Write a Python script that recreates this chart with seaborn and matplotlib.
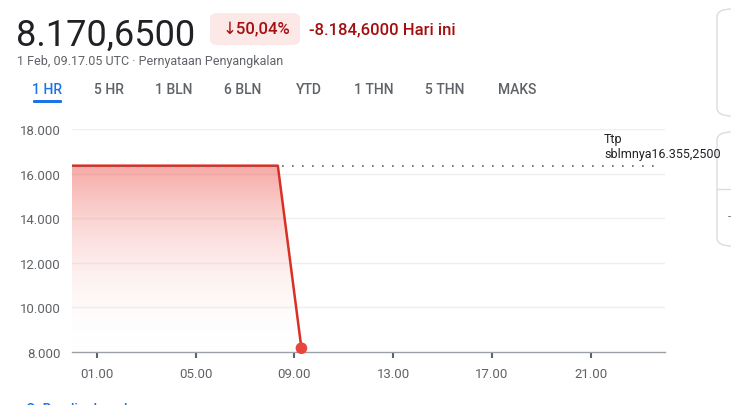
import numpy as np
import pandas as pd
import matplotlib
matplotlib.use("Agg")
import matplotlib.pyplot as plt
from matplotlib.patches import FancyBboxPatch, Polygon
from matplotlib.colors import LinearSegmentedColormap
import seaborn as sns

# data (hours since midnight, price)
hours = [0.0, 1.0, 2.0, 3.0, 4.0, 5.0, 6.0, 7.0, 8.0, 8.33, 9.285]
prices = [16355.25, 16355.25, 16355.25, 16355.25, 16355.25, 16355.25,
          16355.25, 16355.25, 16355.25, 16355.25, 8170.65]
prev_close = 16355.25
x_ticks = [1, 5, 9, 13, 17, 21]
x_tick_labels = ["01.00", "05.00", "09.00", "13.00", "17.00", "21.00"]
y_ticks = [8000, 10000, 12000, 14000, 16000, 18000]
y_tick_labels = ["8.000", "10.000", "12.000", "14.000", "16.000", "18.000"]
tabs = ["1 HR", "5 HR", "1 BLN", "6 BLN", "YTD", "1 THN", "5 THN", "MAKS"]
tab_x = [47, 109, 174, 243, 309, 374, 445, 517]

W, H = 731, 406
RED = "#d93025"
GREY = "#5f6368"

sns.set_theme(style="white")
plt.rcParams["font.family"] = ["Roboto", "DejaVu Sans"]

df = pd.DataFrame({"hour": hours, "price": prices})

fig = plt.figure(figsize=(W / 100, H / 100), dpi=100)
ax = fig.add_axes([72 / W, 1 - 353 / H, (665 - 72) / W, (353 - 130) / H])


def px(x, y):
    return x / W, 1 - y / H


# gradient fill under the line
cmap = LinearSegmentedColormap.from_list("fade", [(1, 1, 1, 0), (0.93, 0.33, 0.30, 0.5)])
grad = np.linspace(0, 1, 256).reshape(-1, 1)
im = ax.imshow(grad, extent=[0, max(hours), 8000, prev_close], origin="lower",
               aspect="auto", cmap=cmap, zorder=1)
poly = Polygon(list(zip(hours, prices)) + [(max(hours), 8000), (0, 8000)],
               closed=True, transform=ax.transData, facecolor="none", edgecolor="none")
ax.add_patch(poly)
im.set_clip_path(poly)

# grid lines
for v in y_ticks[1:]:
    ax.axhline(v, color="#eeeff1", lw=1, zorder=0)

sns.lineplot(data=df, x="hour", y="price", color=RED, lw=1.8, ax=ax, zorder=3)
ax.plot([0, 23.7], [prev_close, prev_close], ls=(0, (1, 5)), color="#5f6368",
        lw=1.2, zorder=4)
sns.scatterplot(x=[hours[-1]], y=[prices[-1]], color="#e8453c", s=70,
                edgecolor="none", ax=ax, zorder=5, clip_on=False)

ax.set_xlim(0, 24)
ax.set_ylim(8000, 18000)
ax.set_xticks(x_ticks)
ax.set_xticklabels(x_tick_labels)
ax.set_yticks(y_ticks)
ax.set_yticklabels(y_tick_labels)
ax.set_xlabel("")
ax.set_ylabel("")
for s in ["top", "right", "left"]:
    ax.spines[s].set_visible(False)
ax.spines["bottom"].set_color("#9aa0a6")
ax.spines["bottom"].set_linewidth(1)
ax.tick_params(axis="x", length=4, width=1.5, color=GREY, labelcolor=GREY,
               labelsize=9.5, pad=7, bottom=True, direction="out")
ax.tick_params(axis="y", length=0, labelcolor=GREY, labelsize=9.5, pad=8)

fig.text(*px(604, 140), "Ttp", fontsize=9, color="#202124", va="center")
fig.text(*px(604, 155), "sblmnya16.355,2500", fontsize=9, color="#202124", va="center")

# header
fig.text(*px(16, 46), "8.170,6500", fontsize=26, color="#202124", va="baseline")
fig.patches.append(FancyBboxPatch(px(210, 46), 90 / W, 32 / H,
                                  boxstyle="round,pad=0,rounding_size=0.012",
                                  transform=fig.transFigure, facecolor="#fce8e6",
                                  edgecolor="none"))
fig.text(*px(256, 30), "↓50,04%", fontsize=12, color="#a50e0e", ha="center",
         va="center", weight="medium", family=["Roboto", "DejaVu Sans"])
fig.text(*px(309, 30), "-8.184,6000 Hari ini", fontsize=12, color="#a50e0e",
         va="center", weight="medium")
fig.text(*px(17, 61), "1 Feb, 09.17.05 UTC · Pernyataan Penyangkalan", fontsize=9,
         color=GREY, va="center")

for i, (t, x) in enumerate(zip(tabs, tab_x)):
    fig.text(*px(x, 90), t, fontsize=10, ha="center", va="center",
             color="#1a73e8" if i == 0 else GREY, weight="medium")
fig.patches.append(FancyBboxPatch(px(33, 104), 29 / W, 3 / H,
                                  boxstyle="round,pad=0,rounding_size=0.002",
                                  transform=fig.transFigure, facecolor="#1a73e8",
                                  edgecolor="none"))

# right-side cards (cut off)
for y0, y1 in [(10, 117), (133, 247)]:
    fig.patches.append(FancyBboxPatch(px(717, y1), 40 / W, (y1 - y0) / H,
                                      boxstyle="round,pad=0,rounding_size=0.02",
                                      transform=fig.transFigure, facecolor="none",
                                      edgecolor="#dadce0", lw=1))
fig.add_artist(plt.Line2D([717 / W, 1], [1 - 190 / H] * 2, color="#dadce0", lw=1,
                          transform=fig.transFigure))
fig.text(*px(728, 217), "-", fontsize=8, color=GREY, va="center")

# bottom link, cut off by the page edge as in the screenshot
fig.text(*px(26, 410), "Q  Bandingkan dengan", fontsize=10, color="#1a73e8",
         va="center", weight="medium")

fig.savefig("out.png", dpi=100)
